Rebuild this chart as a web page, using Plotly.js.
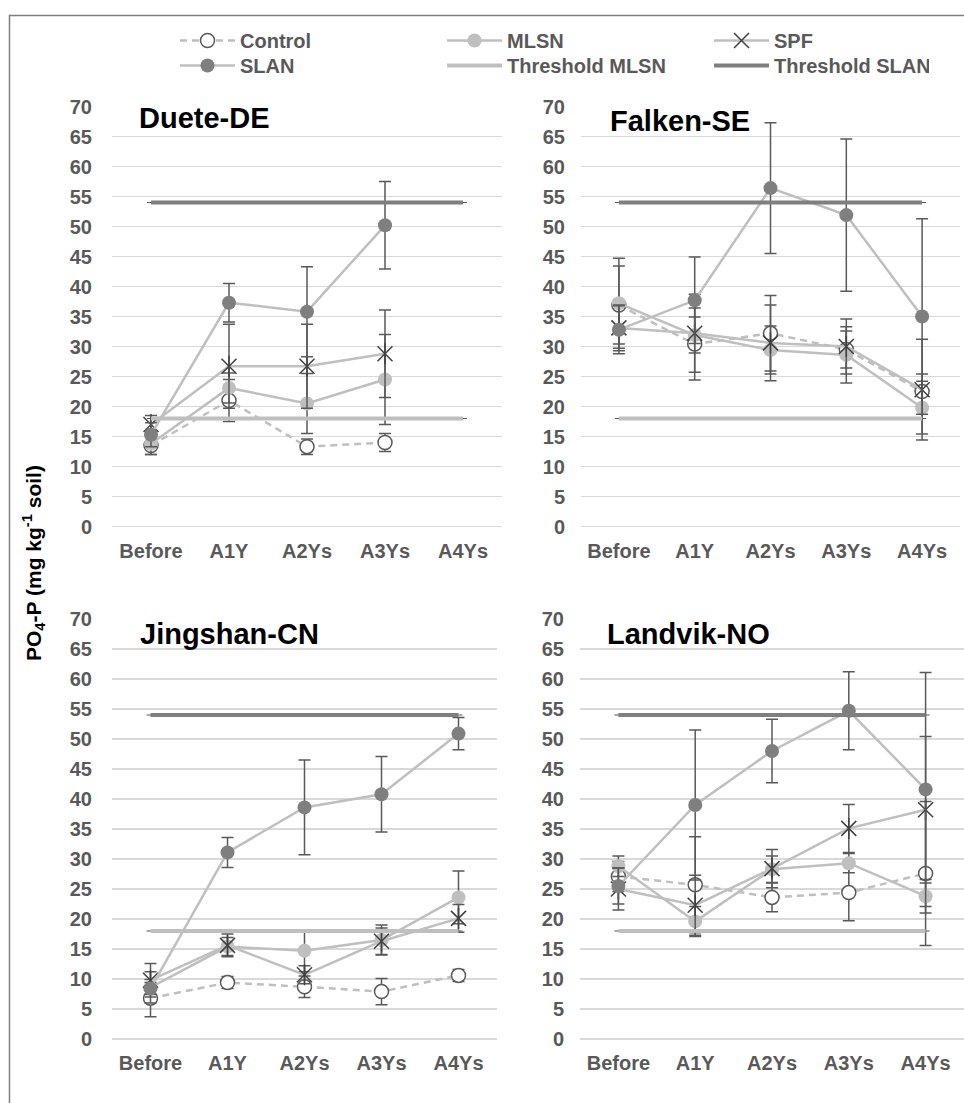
<!DOCTYPE html>
<html><head><meta charset="utf-8">
<script src="https://cdn.plot.ly/plotly-3.0.1.min.js"></script>
<style>html,body{margin:0;padding:0;background:#fff;overflow:hidden}#chart{width:964px;height:1103px}</style>
</head><body><div id="chart"></div>
<script>
// ---------------- DATA ----------------
const categories = ['Before', 'A1Y', 'A2Ys', 'A3Ys', 'A4Ys'];
const siteNames = ['Duete-DE', 'Falken-SE', 'Jingshan-CN', 'Landvik-NO'];
const seriesNames = ['Control', 'MLSN', 'SPF', 'SLAN'];
const thresholdNames = ['Threshold MLSN', 'Threshold SLAN'];
const thresholdMLSN = 18;
const thresholdSLAN = 54;
const yTickVals = [0, 5, 10, 15, 20, 25, 30, 35, 40, 45, 50, 55, 60, 65, 70];
const yAxisTitle = 'PO<sub>4</sub>-P (mg kg<sup>-1</sup> soil)';

// Duete-DE
const dueteControl    = [13.5, 21.0, 13.3, 14.0, null];
const dueteControlErr = [1.5, 3.5, 1.3, 1.5, null];
const dueteMLSN       = [13.8, 23.1, 20.5, 24.5, null];
const dueteMLSNErr    = [1.8, 2.5, 5.0, 7.5, null];
const dueteSPF        = [17.0, 26.7, 26.7, 28.8, null];
const dueteSPFErr     = [1.5, 7.0, 7.0, 7.3, null];
const dueteSLAN       = [15.3, 37.3, 35.8, 50.2, null];
const dueteSLANErr    = [2.0, 3.2, 7.5, 7.3, null];

// Falken-SE
const falkenControl    = [36.9, 30.4, 32.2, 29.5, 22.5];
const falkenControlErr = [6.5, 6.0, 6.3, 3.1, 2.9];
const falkenMLSN       = [37.2, 31.9, 29.4, 28.6, 19.8];
const falkenMLSNErr    = [7.5, 3.0, 4.0, 4.7, 4.4];
const falkenSPF        = [33.1, 32.2, 30.6, 30.0, 22.8];
const falkenSPFErr     = [3.8, 6.5, 6.3, 4.6, 8.4];
const falkenSLAN       = [32.8, 37.7, 56.4, 51.9, 35.0];
const falkenSLANErr    = [4.0, 7.2, 10.9, 12.7, 16.3];

// Jingshan-CN
const jingshanControl    = [6.8, 9.4, 8.7, 7.9, 10.6];
const jingshanControlErr = [3.1, 1.0, 1.8, 2.2, 1.0];
const jingshanMLSN       = [8.6, 15.4, 14.7, 16.5, 23.6];
const jingshanMLSNErr    = [2.6, 1.5, 3.5, 2.5, 4.4];
const jingshanSPF        = [9.8, 15.6, 10.7, 16.3, 20.1];
const jingshanSPFErr     = [2.8, 1.9, 1.5, 2.2, 2.3];
const jingshanSLAN       = [8.4, 31.1, 38.6, 40.8, 50.9];
const jingshanSLANErr    = [1.0, 2.5, 7.9, 6.3, 2.7];

// Landvik-NO
const landvikControl    = [27.1, 25.7, 23.6, 24.4, 27.6];
const landvikControlErr = [2.5, 8.0, 2.4, 4.7, 12.0];
const landvikMLSN       = [28.8, 19.6, 28.3, 29.3, 23.8];
const landvikMLSNErr    = [1.7, 2.5, 2.2, 1.6, 2.8];
const landvikSPF        = [25.0, 22.3, 28.4, 35.1, 38.2];
const landvikSPFErr     = [3.5, 5.0, 3.2, 4.0, 12.2];
const landvikSLAN       = [25.5, 39.0, 48.0, 54.7, 41.6];
const landvikSLANErr    = [3.0, 12.5, 5.3, 6.5, 19.5];

const siteData = [
  [[dueteControl, dueteControlErr], [dueteMLSN, dueteMLSNErr], [dueteSPF, dueteSPFErr], [dueteSLAN, dueteSLANErr]],
  [[falkenControl, falkenControlErr], [falkenMLSN, falkenMLSNErr], [falkenSPF, falkenSPFErr], [falkenSLAN, falkenSLANErr]],
  [[jingshanControl, jingshanControlErr], [jingshanMLSN, jingshanMLSNErr], [jingshanSPF, jingshanSPFErr], [jingshanSLAN, jingshanSLANErr]],
  [[landvikControl, landvikControlErr], [landvikMLSN, landvikMLSNErr], [landvikSPF, landvikSPFErr], [landvikSLAN, landvikSLANErr]]
];

// ---------------- LAYOUT / STYLE ----------------
const W = 964, H = 1103;
const fx = px => px / W;
const fy = py => (H - py) / H;
const FONT = 'Liberation Sans, Arial, Helvetica, sans-serif';
const GREY_TXT = '#595959';
const LINE_GREY = '#bfbfbf';
const DARK = '#595959';
const SLAN_GREY = '#7f7f7f';

const panels = [
  {x0: 112, x1: 502, yTop: 106.5, yBot: 526.5, tx: 137, ty: 100.5, standoff: 19},
  {x0: 581, x1: 960, yTop: 106.5, yBot: 526.5, tx: 608, ty: 103, standoff: 15},
  {x0: 112, x1: 497, yTop: 619, yBot: 1039, tx: 138, ty: 615.5, standoff: 19},
  {x0: 580, x1: 964, yTop: 619, yBot: 1039, tx: 605, ty: 616, standoff: 15}
];

const seriesStyle = [
  {line: {color: LINE_GREY, width: 2.5, dash: '7px,5px'},
   marker: {symbol: 'circle', size: 14, color: '#ffffff', line: {color: DARK, width: 1.5}}},
  {line: {color: LINE_GREY, width: 2.5},
   marker: {symbol: 'circle', size: 14, color: '#bfbfbf', line: {width: 0}}},
  {line: {color: LINE_GREY, width: 2.5},
   marker: {symbol: 'x-thin-open', size: 15, color: '#404040', line: {color: '#404040', width: 1.5}}},
  {line: {color: LINE_GREY, width: 2.5},
   marker: {symbol: 'circle', size: 14, color: SLAN_GREY, line: {width: 0}}}
];
// which legend row each entry goes to, and a narrower width for the last column
const legendRow = {'Control': 'legend', 'MLSN': 'legend', 'SPF': 'legend',
                   'SLAN': 'legend2', 'Threshold MLSN': 'legend2', 'Threshold SLAN': 'legend2'};
const lastColumn = {'SPF': true, 'Threshold SLAN': true};

const legendFont = {family: FONT, size: 20, color: GREY_TXT, weight: 'bold'};
const legendBase = {
  orientation: 'h', x: fx(175), xanchor: 'left', yanchor: 'top',
  font: legendFont, itemwidth: 55, entrywidth: 197, tracegroupgap: 0,
  bgcolor: 'rgba(0,0,0,0)', borderwidth: 0, traceorder: 'normal'
};

const traces = [];
const layout = {
  width: W, height: H,
  margin: {l: 0, r: 0, t: 0, b: 0},
  paper_bgcolor: '#ffffff', plot_bgcolor: '#ffffff',
  showlegend: true,
  legend: Object.assign({}, legendBase, {y: fy(21)}),
  legend2: Object.assign({}, legendBase, {y: fy(46)}),
  annotations: [],
  shapes: [{
    type: 'rect', xref: 'paper', yref: 'paper',
    x0: fx(9.5), x1: 1.02, y0: -0.02, y1: fy(15.5),
    line: {color: '#7f7f7f', width: 1.5}, fillcolor: 'rgba(0,0,0,0)', layer: 'above'
  }]
};

const tickFont = {family: FONT, size: 20, color: GREY_TXT, weight: 'bold'};

siteNames.forEach((site, i) => {
  const s = i === 0 ? '' : String(i + 1);
  const xa = 'x' + s, ya = 'y' + s;
  const p = panels[i];
  layout['xaxis' + s] = {
    domain: [fx(p.x0), fx(p.x1)], anchor: ya,
    type: 'category', categoryorder: 'array', categoryarray: categories,
    range: [-0.5, categories.length - 0.5],
    showgrid: false, zeroline: false, showline: false, ticks: '',
    tickfont: tickFont, ticklabelstandoff: 10, fixedrange: true
  };
  layout['yaxis' + s] = {
    domain: [fy(p.yBot), fy(p.yTop)], anchor: xa,
    range: [0, 70], tickmode: 'array', tickvals: yTickVals,
    showgrid: true, gridcolor: '#d9d9d9', gridwidth: 1.5,
    zeroline: true, zerolinecolor: '#d9d9d9', zerolinewidth: 1.5,
    showline: false, ticks: '', tickfont: tickFont, ticklabelstandoff: p.standoff, fixedrange: true
  };

  seriesNames.forEach((name, k) => {
    const [vals, errs] = siteData[i][k];
    const st = seriesStyle[k];
    const tr = {
      type: 'scatter', mode: 'lines+markers', name: name,
      x: categories, y: vals, xaxis: xa, yaxis: ya,
      line: st.line, marker: st.marker, connectgaps: false,
      error_y: {type: 'data', array: errs, symmetric: true, visible: true,
                color: DARK, thickness: 1.5, width: 6},
      showlegend: i === 0, legend: legendRow[name], cliponaxis: false
    };
    if (lastColumn[name]) tr.legendwidth = 150;
    traces.push(tr);
    if (name === 'SPF') {
      traces.push({
        type: 'scatter', mode: 'markers', name: name,
        x: categories, y: vals, xaxis: xa, yaxis: ya,
        marker: {symbol: 'line-ns-open', size: 15, color: '#404040', line: {color: '#404040', width: 1.5}},
        showlegend: false, hoverinfo: 'skip', cliponaxis: false
      });
    }
  });

  [thresholdMLSN, thresholdSLAN].forEach((thr, k) => {
    const name = thresholdNames[k];
    const col = k === 0 ? LINE_GREY : SLAN_GREY;
    const tr = {
      type: 'scatter', mode: 'lines', name: name,
      x: categories, y: categories.map(() => thr), xaxis: xa, yaxis: ya,
      line: {color: col, width: 4},
      error_y: {type: 'constant', value: 0, visible: true, color: DARK, thickness: 1.2, width: 4},
      showlegend: i === 0, legend: legendRow[name], hoverinfo: 'skip', cliponaxis: false
    };
    if (lastColumn[name]) tr.legendwidth = 150;
    traces.push(tr);
  });

  layout.annotations.push({
    text: site, xref: 'paper', yref: 'paper', x: fx(p.tx), y: fy(p.ty),
    xanchor: 'left', yanchor: 'top', showarrow: false,
    font: {family: FONT, size: 29, color: '#000000', weight: 'bold'}
  });
});

layout.annotations.push({
  text: yAxisTitle, xref: 'paper', yref: 'paper', x: fx(33), y: fy(563),
  xanchor: 'center', yanchor: 'middle', textangle: -90, showarrow: false,
  font: {family: FONT, size: 21, color: '#000000', weight: 'bold'}
});

Plotly.newPlot('chart', traces, layout, {staticPlot: true, displayModeBar: false});
</script>
</body></html>
